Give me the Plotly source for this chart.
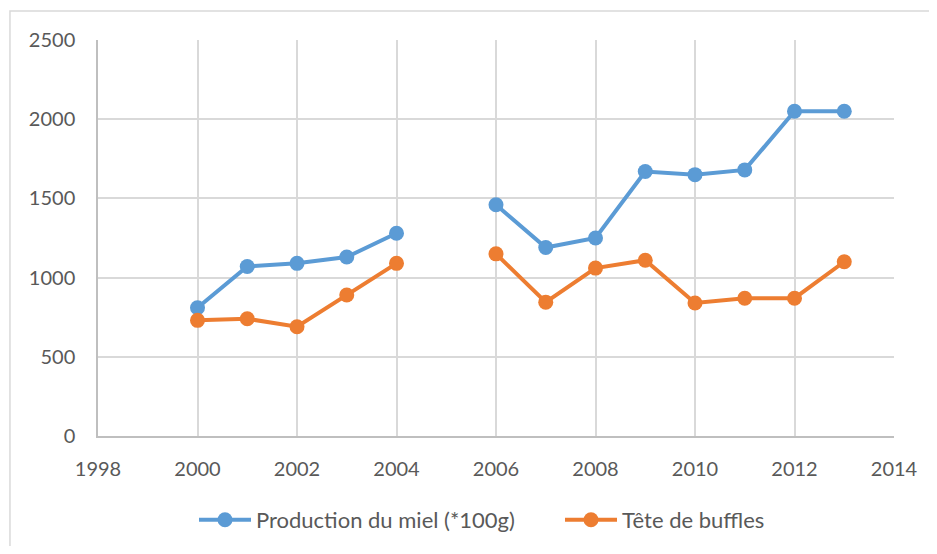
"""
Production du miel et têtes de buffles, 2000-2013 (Plotly)
"""
import plotly.graph_objects as go

# années (2005 manquante -> trou dans les courbes)
years = [2000, 2001, 2002, 2003, 2004, 2005, 2006, 2007, 2008, 2009, 2010, 2011, 2012, 2013]
miel = [810, 1070, 1090, 1130, 1280, None, 1460, 1190, 1250, 1670, 1650, 1680, 2050, 2050]
buffles = [730, 740, 690, 890, 1090, None, 1150, 845, 1060, 1110, 840, 870, 870, 1100]

x_ticks = [1998, 2000, 2002, 2004, 2006, 2008, 2010, 2012, 2014]
y_ticks = [0, 500, 1000, 1500, 2000, 2500]

BLUE = '#5B9BD5'
ORANGE = '#ED7D31'
TEXT = '#595959'
GRID = '#D9D9D9'

fig = go.Figure()

fig.add_trace(go.Scatter(
    x=years, y=miel,
    mode='lines+markers',
    name='Production du miel (*100g)',
    line=dict(color=BLUE, width=4),
    marker=dict(color=BLUE, size=15),
    connectgaps=False,
))

fig.add_trace(go.Scatter(
    x=years, y=buffles,
    mode='lines+markers',
    name='Tête de buffles',
    line=dict(color=ORANGE, width=4),
    marker=dict(color=ORANGE, size=15),
    connectgaps=False,
))

# cadre du graphique (style Excel)
fig.add_shape(
    type='rect', xref='paper', yref='paper',
    x0=-0.1106, x1=1.3, y0=-0.5, y1=1.0732,
    line=dict(color=GRID, width=1.5),
    fillcolor='rgba(0,0,0,0)',
    layer='below',
)

# la page a une marge de 8px autour de la figure
fig.update_layout(
    width=921,
    height=538,
    margin=dict(l=90, r=35, t=32, b=110, autoexpand=False),
    paper_bgcolor='white',
    plot_bgcolor='white',
    font=dict(family='Lato, Carlito, sans-serif', size=20, color=TEXT),
    showlegend=True,
    legend=dict(
        orientation='h',
        x=0.1206, xanchor='left',
        y=-0.212, yanchor='middle',
        font=dict(size=22, color=TEXT),
        itemwidth=52,
        entrywidth=299,
        tracegroupgap=0,
    ),
    xaxis=dict(
        range=[1998, 2014],
        tickvals=x_ticks,
        showgrid=True, gridcolor=GRID, gridwidth=1.5,
        showline=True, linecolor='#BFBFBF', linewidth=1.5, mirror=False,
        zeroline=False, automargin=False,
        ticks='', ticklabelstandoff=14,
    ),
    yaxis=dict(
        range=[0, 2500],
        tickvals=y_ticks,
        showgrid=True, gridcolor=GRID, gridwidth=1.5,
        showline=True, linecolor='#BFBFBF', linewidth=1.5,
        zeroline=False, automargin=False,
        ticks='', ticklabelstandoff=17,
    ),
)

fig.write_html("out.html")
